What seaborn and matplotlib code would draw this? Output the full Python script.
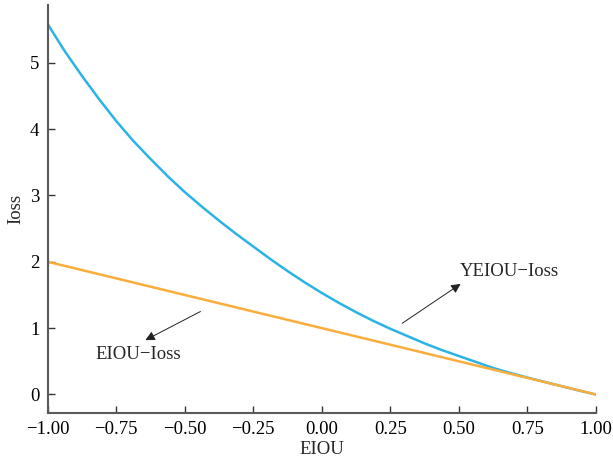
import matplotlib
matplotlib.use("Agg")
import matplotlib.pyplot as plt
import seaborn as sns
import pandas as pd

# data
eiou = [-1.0, -0.9375, -0.875, -0.8125, -0.75, -0.6875, -0.625, -0.5625,
        -0.5, -0.4375, -0.375, -0.3125, -0.25, -0.1875, -0.125, -0.0625,
        0.0, 0.0625, 0.125, 0.1875, 0.25, 0.3125, 0.375, 0.4375,
        0.5, 0.5625, 0.625, 0.6875, 0.75, 0.8125, 0.875, 0.9375, 1.0]
yeiou_loss = [5.58, 5.17, 4.80, 4.45, 4.12, 3.82, 3.55, 3.29,
              3.05, 2.83, 2.62, 2.42, 2.23, 2.04, 1.86, 1.69,
              1.53, 1.38, 1.24, 1.11, 0.99, 0.88, 0.77, 0.67,
              0.58, 0.49, 0.40, 0.325, 0.255, 0.19, 0.125, 0.06, 0.0]
eiou_line_x = [-1.0, 1.0]
eiou_loss = [2.0, 0.0]

x_ticks = [-1.00, -0.75, -0.50, -0.25, 0.00, 0.25, 0.50, 0.75, 1.00]
y_ticks = [0, 1, 2, 3, 4, 5]

sns.set_style("ticks")
plt.rcParams['font.family'] = ['Liberation Serif', 'DejaVu Serif']
plt.rcParams['axes.unicode_minus'] = True

df_y = pd.DataFrame({'EIOU': eiou, 'loss': yeiou_loss})
df_e = pd.DataFrame({'EIOU': eiou_line_x, 'loss': eiou_loss})

fig = plt.figure(figsize=(6.13, 4.61), dpi=100)
ax = fig.add_axes([0.078, 0.104, 0.894, 0.885])

sns.lineplot(data=df_y, x='EIOU', y='loss', color='#2bb3e6', linewidth=1.8, ax=ax)
sns.lineplot(data=df_e, x='EIOU', y='loss', color='#f9ad3c', linewidth=1.8, ax=ax)

ax.set_xlim(-1, 1)
ax.set_ylim(-0.28, 5.87)
ax.set_xticks(x_ticks)
ax.set_xticklabels([f"{v:.2f}".replace('-', '\u2212') for v in x_ticks])
ax.set_yticks(y_ticks)

ax.set_xlabel("EIOU", fontsize=13.5, labelpad=2)
ax.set_ylabel("Ioss", fontsize=13.5, labelpad=4)

for s in ['top', 'right']:
    ax.spines[s].set_visible(False)
for s in ['left', 'bottom']:
    ax.spines[s].set_color('#5a5a5a')
    ax.spines[s].set_linewidth(1.5)
ax.tick_params(direction='in', length=5, width=1, color='#333333',
               labelsize=13.5, labelcolor='black', pad=6)

# arrows and labels
ax.annotate('', xy=(0.515, 1.69), xytext=(0.285, 1.05),
            arrowprops=dict(arrowstyle='-|>', color='#222222', lw=0.7,
                            mutation_scale=14))
ax.text(0.505, 1.86, "YEIOU\u2212Ioss", fontsize=13.5, va='center', ha='left')

ax.annotate('', xy=(-0.653, 0.80), xytext=(-0.434, 1.27),
            arrowprops=dict(arrowstyle='-|>', color='#222222', lw=0.7,
                            mutation_scale=14))
ax.text(-0.825, 0.60, "EIOU\u2212Ioss", fontsize=13.5, va='center', ha='left')

plt.savefig("out.png", dpi=100)
plt.close()
